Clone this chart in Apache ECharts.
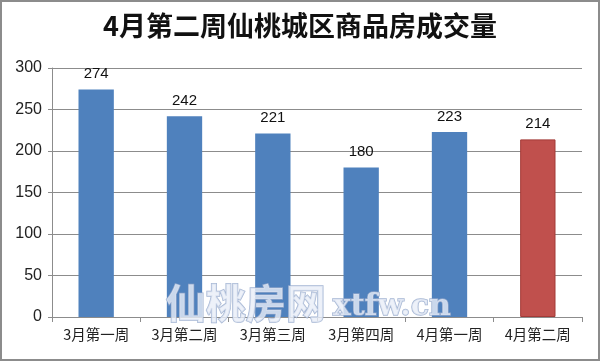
<!DOCTYPE html>
<html><head><meta charset="utf-8">
<script src="https://cdn.jsdelivr.net/npm/echarts@6/dist/echarts.min.js"></script>
<style>html,body{margin:0;padding:0;background:#fff}#c{width:600px;height:361px;box-sizing:border-box;border:2px solid #8c8c8c}</style>
</head><body><div id="c"></div>
<script>
var title = '4月第二周仙桃城区商品房成交量';
var categories = ['3月第一周','3月第二周','3月第三周','3月第四周','4月第一周','4月第二周'];
var values = [274, 242, 221, 180, 223, 214];
var barColors = ['#4F81BD','#4F81BD','#4F81BD','#4F81BD','#4F81BD','#C0504D'];
var yTicks = {min: 0, max: 300, interval: 50};
var watermarkCn = '仙桃房网';
var watermarkEn = 'xtfw.cn';

var chart = echarts.init(document.getElementById('c'), null, {renderer: 'canvas'});
chart.setOption({
  animation: false,
  title: {text: title, left: 'center', top: 5,
    textStyle: {fontFamily: 'Noto Sans CJK SC', fontWeight: 'bold', fontSize: 27, color: '#111'}},
  grid: {left: 50, right: 16, top: 66, bottom: 42},
  xAxis: {type: 'category', data: categories,
    axisLine: {lineStyle: {color: '#8c8c8c'}},
    axisTick: {show: true, length: 5, lineStyle: {color: '#8c8c8c'}},
    axisLabel: {interval: 0, color: '#222', fontSize: 14.5, fontFamily: 'Noto Sans CJK SC', margin: 10}},
  yAxis: {type: 'value', min: yTicks.min, max: yTicks.max, interval: yTicks.interval,
    axisLine: {show: true, lineStyle: {color: '#8c8c8c'}},
    axisTick: {show: true, length: 4, lineStyle: {color: '#8c8c8c'}},
    splitLine: {lineStyle: {color: '#8c8c8c'}},
    axisLabel: {color: '#222', fontSize: 16, fontFamily: 'Liberation Sans', margin: 10}},
  graphic: [{type: 'text', left: 163, top: 280, z: 100,
      style: {text: watermarkCn, font: 'bold 40px "Noto Sans CJK SC"', fill: 'rgba(232,238,248,0.8)', stroke: 'rgba(150,170,205,0.85)', lineWidth: 1.5}},
    {type: 'text', left: 330, top: 289, z: 100,
      style: {text: watermarkEn, font: 'bold 30px "DejaVu Serif"', fill: 'rgba(232,238,248,0.8)', stroke: 'rgba(150,170,205,0.85)', lineWidth: 1.5}}],
  series: [{type: 'bar', barWidth: '40%',
    data: values.map(function(v, i){ return {value: v, itemStyle: {color: barColors[i], borderColor: i === 5 ? '#A33A37' : barColors[i], borderWidth: i === 5 ? 1 : 0}}; }),
    label: {show: true, position: 'top', distance: 8, color: '#111', fontSize: 15, fontFamily: 'Liberation Sans'}}]
});
</script></body></html>
